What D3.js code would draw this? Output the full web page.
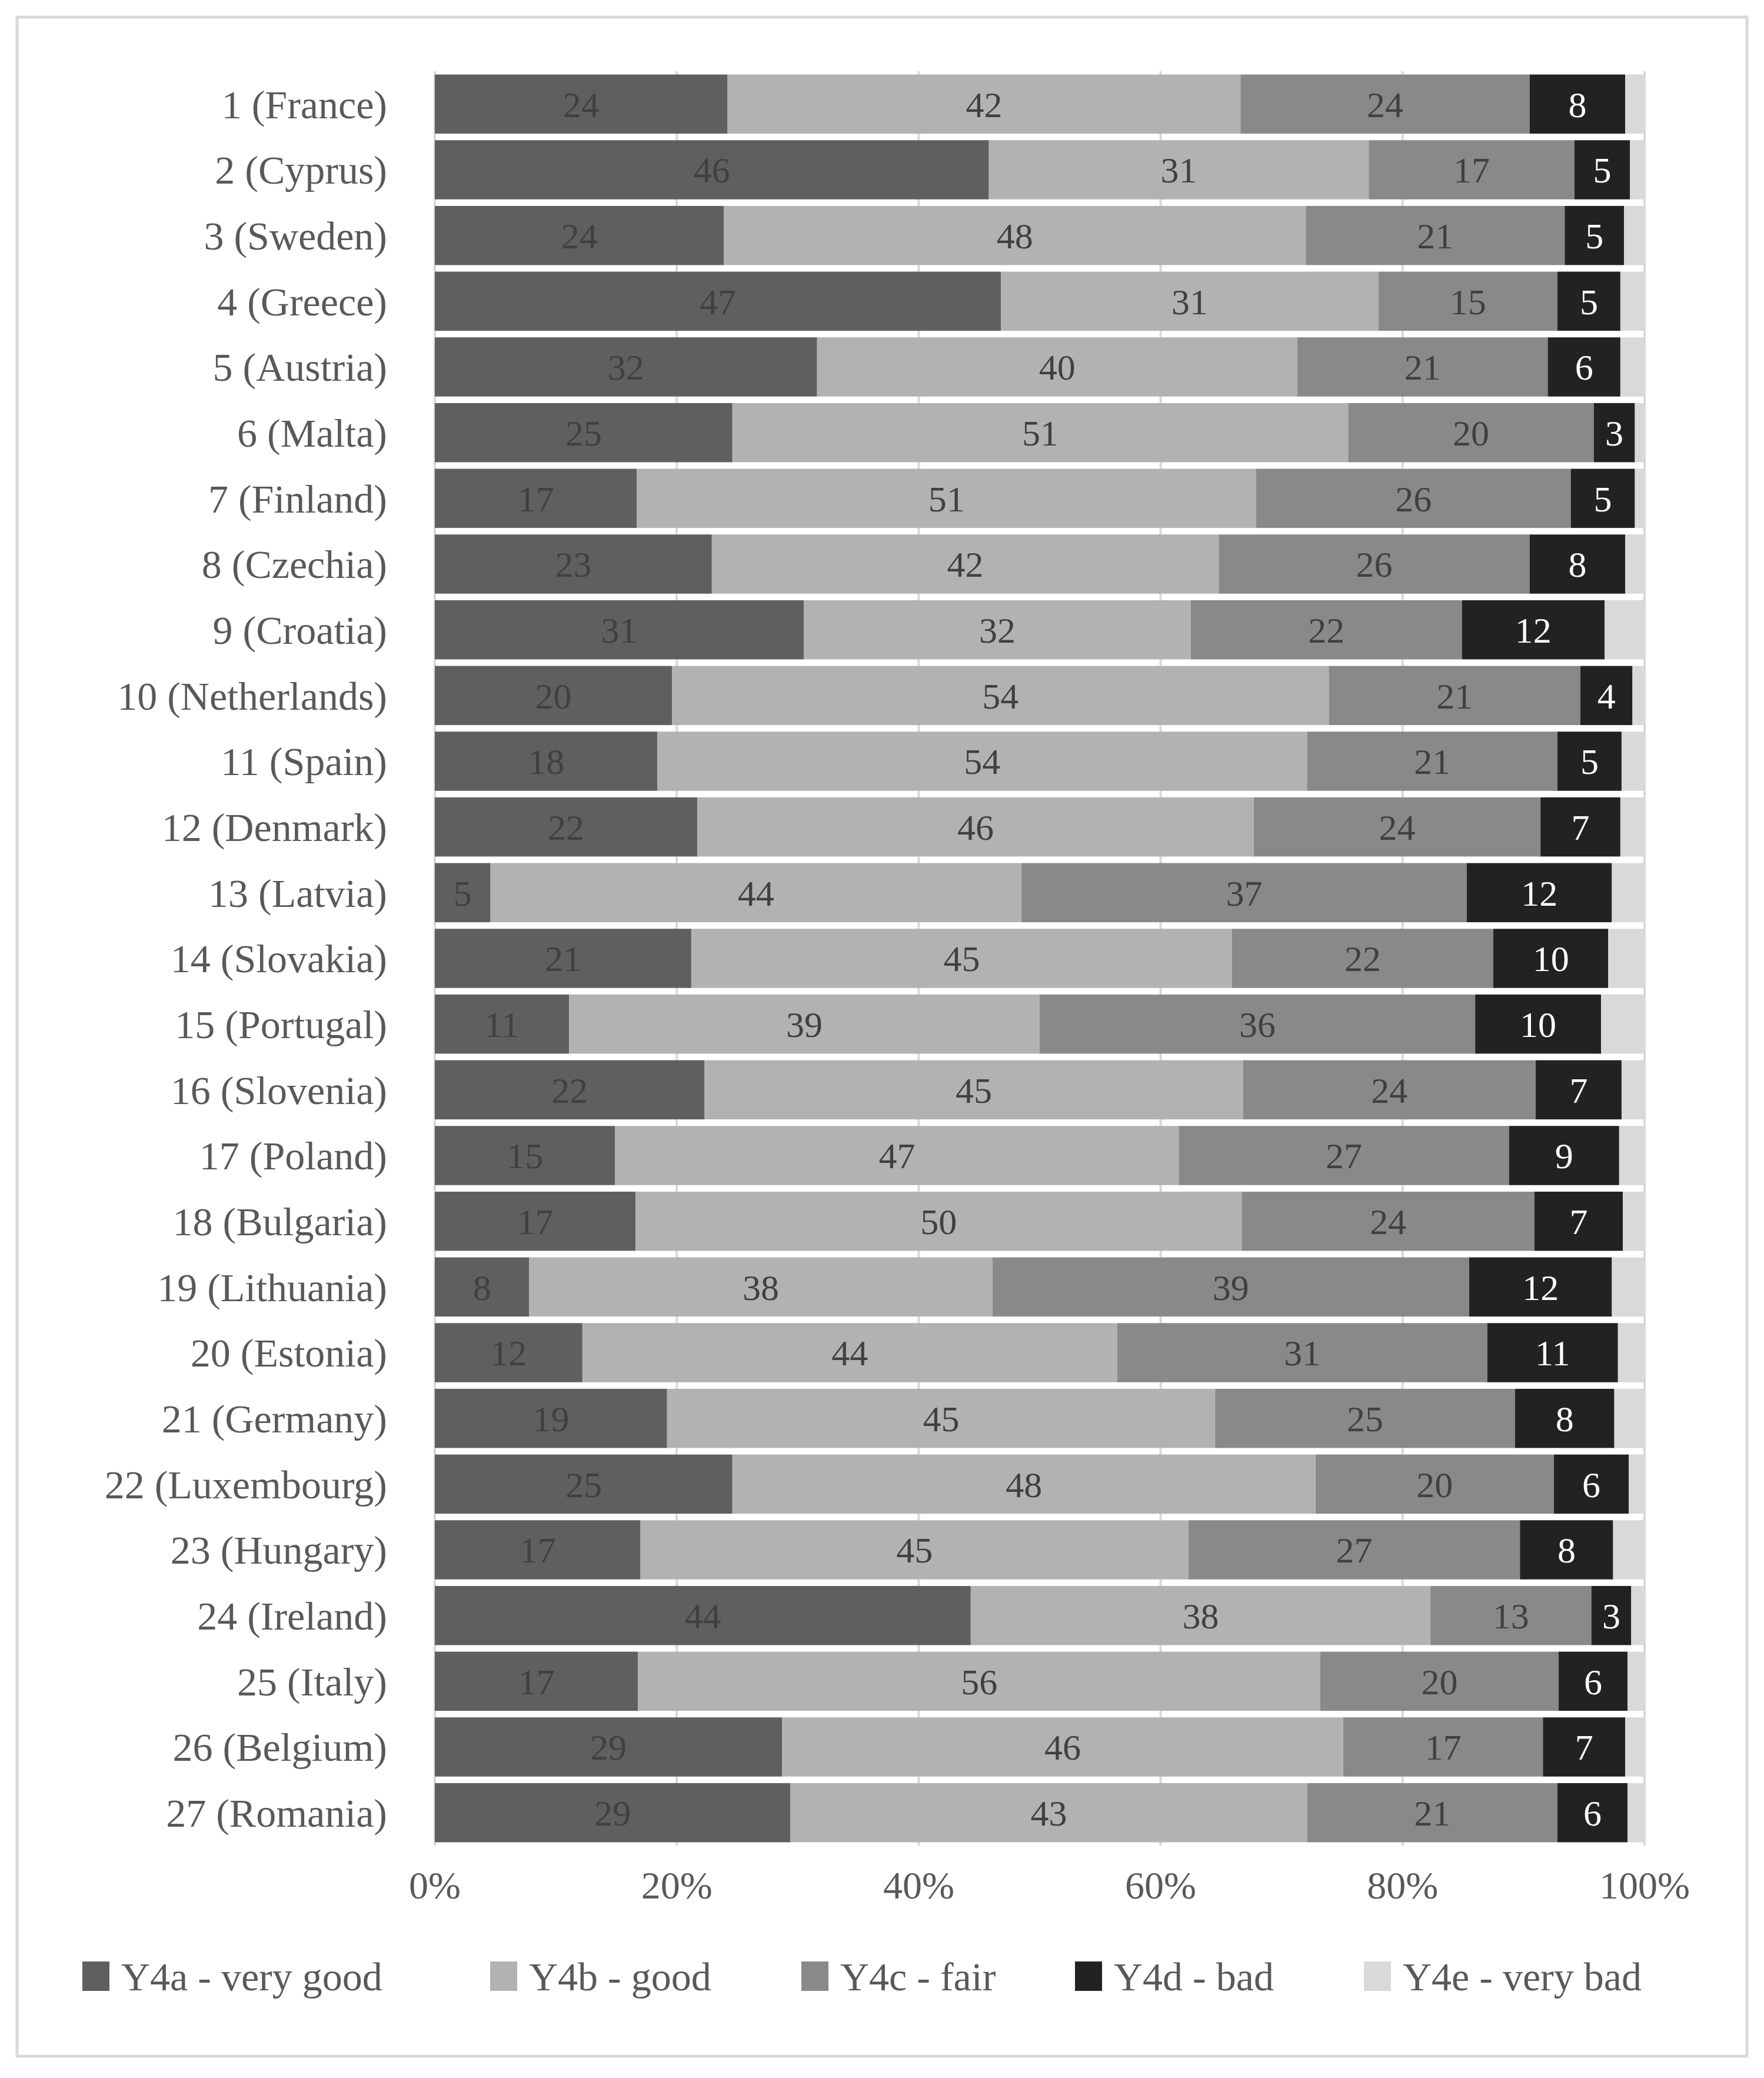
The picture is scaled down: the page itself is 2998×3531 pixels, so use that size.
<!DOCTYPE html>
<html>
<head>
<meta charset="utf-8">
<script src="https://cdn.jsdelivr.net/npm/d3@7"></script>
<style>
body { margin: 0; background: #fff; }
text { font-family: "Liberation Serif", "DejaVu Serif", serif; }
</style>
</head>
<body>
<div id="chart"></div>
<script>
const countries = ["1 (France)", "2 (Cyprus)", "3 (Sweden)", "4 (Greece)", "5 (Austria)", "6 (Malta)",
    "7 (Finland)", "8 (Czechia)", "9 (Croatia)", "10 (Netherlands)", "11 (Spain)", "12 (Denmark)",
    "13 (Latvia)", "14 (Slovakia)", "15 (Portugal)", "16 (Slovenia)", "17 (Poland)", "18 (Bulgaria)",
    "19 (Lithuania)", "20 (Estonia)", "21 (Germany)", "22 (Luxembourg)", "23 (Hungary)", "24 (Ireland)",
    "25 (Italy)", "26 (Belgium)", "27 (Romania)"];

const veryGood = [24.2, 45.8, 23.9, 46.8, 31.6, 24.6, 16.7, 22.9, 30.5, 19.6, 18.4, 21.7, 4.6, 21.2, 11.1, 22.3, 14.9, 16.6, 7.8, 12.2, 19.2, 24.6, 17.0, 44.3, 16.8, 28.7, 29.4];
const good     = [42.4, 31.4, 48.1, 31.2, 39.7, 50.9, 51.2, 41.9, 32.0, 54.3, 53.7, 46.0, 43.9, 44.7, 38.9, 44.5, 46.6, 50.1, 38.3, 44.2, 45.3, 48.2, 45.3, 38.0, 56.4, 46.4, 42.7];
const fair     = [23.9, 17.0, 21.4, 14.8, 20.7, 20.3, 26.0, 25.7, 22.4, 20.8, 20.7, 23.7, 36.8, 21.6, 36.0, 24.2, 27.3, 24.2, 39.4, 30.6, 24.8, 19.7, 27.4, 13.3, 19.7, 16.5, 20.7];
const bad      = [7.9, 4.6, 4.9, 5.2, 6.0, 3.4, 5.3, 7.9, 11.8, 4.3, 5.3, 6.6, 12.0, 9.5, 10.4, 7.1, 9.1, 7.3, 11.8, 10.8, 8.2, 6.2, 7.7, 3.3, 5.7, 6.8, 5.8];
const veryBad  = [1.6, 1.2, 1.7, 2.0, 2.0, 0.8, 0.8, 1.6, 3.3, 1.0, 1.9, 2.0, 2.7, 3.0, 3.6, 1.9, 2.1, 1.8, 2.7, 2.2, 2.5, 1.3, 2.6, 1.1, 1.4, 1.6, 1.4];
const tickValues = [0, 20, 40, 60, 80, 100];

const seriesNames = ["Y4a - very good", "Y4b - good", "Y4c - fair", "Y4d - bad", "Y4e - very bad"];
const colors = ["#5f5f5f", "#b2b2b2", "#898989", "#222222", "#d9d9d9"];
const labelColors = ["#404040", "#404040", "#404040", "#ffffff", null];

const W = 2998, H = 3531;
const margin = { left: 739, right: 203, top: 121, bottom: 395 };

const rows = countries.map((c, i) => ({
    country: c, a: veryGood[i], b: good[i], c: fair[i], d: bad[i], e: veryBad[i]
}));
const keys = ["a", "b", "c", "d", "e"];
const stack = d3.stack().keys(keys)(rows);

const svg = d3.select("#chart").append("svg")
    .attr("width", W).attr("height", H);

// frame
svg.append("rect").attr("x", 29).attr("y", 29).attr("width", W - 58).attr("height", H - 66)
    .attr("fill", "none").attr("stroke", "#d9d9d9").attr("stroke-width", 5);

const x = d3.scaleLinear().domain([0, 100]).range([margin.left, W - margin.right]);
const y = d3.scaleBand().domain(countries).range([margin.top, H - margin.bottom]).paddingInner(0.1).paddingOuter(0.05);

// gridlines
svg.append("g").selectAll("line").data(tickValues).enter().append("line")
    .attr("x1", d => x(d)).attr("x2", d => x(d))
    .attr("y1", margin.top).attr("y2", H - margin.bottom)
    .attr("stroke", "#d9d9d9").attr("stroke-width", 4);

// bars
const layers = svg.append("g").selectAll("g").data(stack).enter().append("g")
    .attr("fill", (d, i) => colors[i]);

layers.selectAll("rect").data(d => d).enter().append("rect")
    .attr("x", d => x(d[0]))
    .attr("y", d => y(d.data.country))
    .attr("width", d => x(d[1]) - x(d[0]))
    .attr("height", y.bandwidth());

// value labels
stack.forEach((layer, li) => {
    if (!labelColors[li]) return;
    svg.append("g").selectAll("text").data(layer).enter().append("text")
        .attr("x", d => (x(d[0]) + x(d[1])) / 2)
        .attr("y", d => y(d.data.country) + y.bandwidth() / 2)
        .attr("dy", "0.35em")
        .attr("text-anchor", "middle")
        .attr("fill", labelColors[li])
        .style("font-size", "62px")
        .text(d => Math.round(d[1] - d[0]));
});

// category labels
svg.append("g").selectAll("text").data(countries).enter().append("text")
    .attr("x", 658)
    .attr("y", d => y(d) + y.bandwidth() / 2)
    .attr("dy", "0.35em")
    .attr("text-anchor", "end")
    .attr("fill", "#595959")
    .style("font-size", "68px")
    .text(d => d);

// x axis tick labels
svg.append("g").selectAll("text").data(tickValues).enter().append("text")
    .attr("x", d => x(d))
    .attr("y", 3203)
    .attr("dy", "0.35em")
    .attr("text-anchor", "middle")
    .attr("fill", "#595959")
    .style("font-size", "66px")
    .text(d => d + "%");

// legend
const legendX = [140, 833, 1362, 1827, 2318];
const legend = svg.append("g").selectAll("g").data(seriesNames).enter().append("g")
    .attr("transform", (d, i) => "translate(" + legendX[i] + ",3358)");
legend.append("rect").attr("x", 0).attr("y", -25).attr("width", 46).attr("height", 50)
    .attr("fill", (d, i) => colors[i]);
legend.append("text").attr("x", 66).attr("dy", "0.35em")
    .attr("fill", "#595959").style("font-size", "68px").text(d => d);
</script>
</body>
</html>
